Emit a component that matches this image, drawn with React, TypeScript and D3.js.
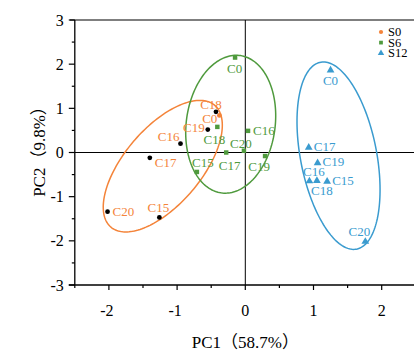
import React, {useRef, useEffect} from 'react';
import * as d3 from 'd3';

// PCA scores
const labels = ['C0', 'C15', 'C16', 'C17', 'C18', 'C19', 'C20'];

const s0X = [-0.38, -1.26, -0.95, -1.40, -0.43, -0.55, -2.02];
const s0Y = [0.84, -1.47, 0.20, -0.12, 0.92, 0.52, -1.34];

const s6X = [-0.15, -0.71, 0.04, -0.28, -0.41, 0.29, -0.02];
const s6Y = [2.15, -0.44, 0.49, 0.00, 0.58, -0.08, 0.04];

const s12X = [1.25, 1.20, 0.94, 0.93, 1.05, 1.06, 1.76];
const s12Y = [1.88, -0.64, -0.63, 0.13, -0.62, -0.22, -2.00];

// confidence ellipses: centre, semi axes, angle (deg) in data units
const ellipseCx = [-1.21, -0.214, 1.367];
const ellipseCy = [-0.31, 0.64, -0.072];
const ellipseA = [1.606, 1.5635, 2.134];
const ellipseB = [0.634, 0.6538, 0.564];
const ellipseAngle = [66.0, 86.4, 96.4];

const seriesNames = ['S0', 'S6', 'S12'];
const xTicks = [-2, -1, 0, 1, 2];
const yTicks = [-3, -2, -1, 0, 1, 2, 3];

const colors = ['#f4843a', '#4f9a3d', '#3a9bcf'];
const shapes = [d3.symbolCircle, d3.symbolSquare, d3.symbolTriangle];

// label placement per series, same order as labels: [dx, dy, anchor]
const placeS0: [number, number, string][] = [
    [-2, 8, 'end'], [-1, -5, 'middle'], [-1, -2.5, 'end'], [5, 9, 'start'],
    [-5, -3, 'middle'], [-3, 2.5, 'end'], [5, 4.5, 'start'],
];
const placeS6: [number, number, string][] = [
    [-0.5, 15, 'middle'], [6, -4.5, 'middle'], [5, 4.5, 'start'], [3.5, 17, 'middle'],
    [-3, 17, 'middle'], [-6, 15, 'middle'], [-3, -2.5, 'middle'],
];
const placeS12: [number, number, string][] = [
    [0, 16, 'middle'], [5, 4, 'start'], [4.5, -4, 'middle'], [5, 4, 'start'],
    [5, 15, 'middle'], [5, 4, 'start'], [-6, -5, 'middle'],
];

const W = 414;
const H = 352;
const FONT = '"Liberation Serif", "Times New Roman", serif';
const TITLE_FONT = '"Liberation Serif", "Noto Sans CJK SC", serif';

const App: React.FC = () => {
    const svgRef = useRef<SVGSVGElement>(null);

    useEffect(() => {
        if (!svgRef.current) return;
        const svg = d3.select(svgRef.current);
        svg.selectAll('*').remove();

        const x = d3.scaleLinear().domain([-2.5, 2.5]).range([74.8, 415.8]);
        const y = d3.scaleLinear().domain([-3, 3]).range([285, 20]);

        // top frame
        svg.append('line')
            .attr('x1', 70).attr('x2', W)
            .attr('y1', y(3)).attr('y2', y(3))
            .style('stroke', '#555').style('stroke-width', 1.5);

        // zero lines
        svg.append('line')
            .attr('x1', x(-2.5)).attr('x2', W)
            .attr('y1', y(0)).attr('y2', y(0))
            .style('stroke', '#000').style('stroke-width', 1);
        svg.append('line')
            .attr('x1', x(0)).attr('x2', x(0))
            .attr('y1', y(3)).attr('y2', y(-3))
            .style('stroke', '#000').style('stroke-width', 1);

        // axes
        const xAxis = svg.append('g').attr('transform', `translate(0,${y(-3)})`);
        xAxis.append('line')
            .attr('x1', x(-2.5) - 6).attr('x2', W)
            .style('stroke', '#000').style('stroke-width', 1.3);
        d3.range(-2.5, 2.51, 0.5).forEach(v => {
            const major = Number.isInteger(v);
            xAxis.append('line')
                .attr('x1', x(v)).attr('x2', x(v))
                .attr('y1', 0).attr('y2', major ? 5 : 3)
                .style('stroke', '#000').style('stroke-width', 1.2);
        });
        xTicks.forEach(v => {
            xAxis.append('text')
                .attr('x', x(v) + (v < 0 ? -2 : 0)).attr('y', 31)
                .attr('text-anchor', 'middle')
                .style('font-family', FONT).style('font-size', '16px')
                .text(v);
        });

        const yAxis = svg.append('g').attr('transform', `translate(${x(-2.5)},0)`);
        yAxis.append('line')
            .attr('y1', y(3)).attr('y2', y(-3))
            .style('stroke', '#000').style('stroke-width', 1.3);
        d3.range(-3, 3.01, 0.5).forEach(v => {
            const major = Number.isInteger(v);
            yAxis.append('line')
                .attr('x1', 0).attr('x2', major ? -6 : -3)
                .attr('y1', y(v)).attr('y2', y(v))
                .style('stroke', '#000').style('stroke-width', 1.2);
        });
        yTicks.forEach(v => {
            yAxis.append('text')
                .attr('x', -11).attr('y', y(v) + 5.5)
                .attr('text-anchor', 'end')
                .style('font-family', FONT).style('font-size', '16px')
                .text(v);
        });

        // axis titles
        svg.append('text')
            .attr('x', x(0)).attr('y', 348)
            .attr('text-anchor', 'middle')
            .style('font-family', TITLE_FONT).style('font-size', '17px')
            .text('PC1（58.7%）');
        svg.append('text')
            .attr('transform', `translate(45,${y(0) - 5}) rotate(-90)`)
            .attr('text-anchor', 'middle')
            .style('font-family', TITLE_FONT).style('font-size', '17px')
            .text('PC2（9.8%）');

        // ellipses
        const line = d3.line<[number, number]>()
            .x(d => x(d[0])).y(d => y(d[1]))
            .curve(d3.curveLinearClosed);
        ellipseCx.forEach((cx, i) => {
            const th = ellipseAngle[i] * Math.PI / 180;
            const pts: [number, number][] = d3.range(0, 2 * Math.PI, Math.PI / 90).map(t => {
                const a = ellipseA[i] * Math.cos(t);
                const b = ellipseB[i] * Math.sin(t);
                return [cx + a * Math.cos(th) - b * Math.sin(th), ellipseCy[i] + a * Math.sin(th) + b * Math.cos(th)];
            });
            svg.append('path')
                .attr('d', line(pts))
                .style('fill', 'none')
                .style('stroke', colors[i])
                .style('stroke-width', 1.5);
        });

        // points + labels
        const series = [
            {xs: s0X, ys: s0Y, place: placeS0},
            {xs: s6X, ys: s6Y, place: placeS6},
            {xs: s12X, ys: s12Y, place: placeS12},
        ];
        series.forEach((s, si) => {
            const g = svg.append('g');
            labels.forEach((lab, i) => {
                const px = x(s.xs[i]);
                const py = y(s.ys[i]);
                // S0 samples are drawn black in the original except C0
                const fill = si === 0 && lab !== 'C0' ? '#000' : colors[si];
                const size = si === 0 ? 18 : si === 1 ? 20 : 26;
                g.append('path')
                    .attr('d', d3.symbol().type(shapes[si]).size(size)())
                    .attr('transform', `translate(${px},${py + (si === 2 ? 0.8 : 0)})`)
                    .style('fill', fill);
                const [dx, dy, anchor] = s.place[i];
                g.append('text')
                    .attr('x', px + dx).attr('y', py + dy)
                    .attr('text-anchor', anchor)
                    .style('font-family', FONT).style('font-size', '13px')
                    .style('fill', colors[si])
                    .text(lab);
            });
        });

        // legend
        const legend = svg.append('g').attr('transform', 'translate(381,32)');
        seriesNames.forEach((name, i) => {
            const row = legend.append('g').attr('transform', `translate(0,${i * 10.6})`);
            row.append('path')
                .attr('d', d3.symbol().type(shapes[i]).size(i === 2 ? 18 : 14)())
                .style('fill', colors[i]);
            row.append('text')
                .attr('x', 7).attr('y', 4.2)
                .style('font-family', FONT).style('font-size', '12.5px')
                .text(name);
        });
    }, []);

    return (
        <svg
            ref={svgRef}
            width={W}
            height={H}
            viewBox={`0 0 ${W} ${H}`}
            style={{position: 'absolute', left: 0, top: 0, background: '#fff'}}
        />
    );
};

export default App;
